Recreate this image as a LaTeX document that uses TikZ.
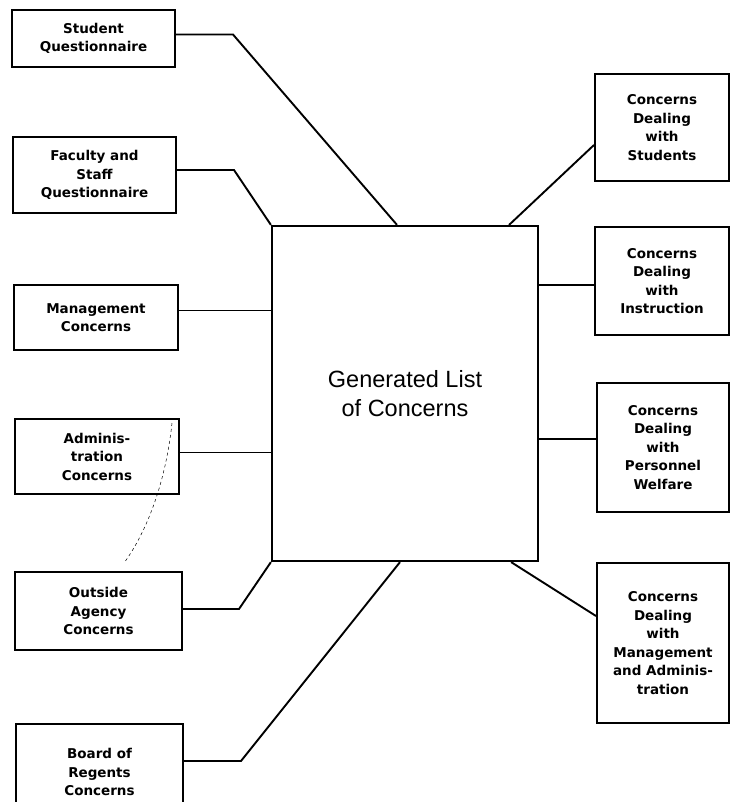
\documentclass[tikz,border=0pt]{standalone}
\usepackage{fontspec}
\setmainfont{Liberation Sans}
\newfontfamily\boxfont{DejaVu Sans}
\tikzset{
  box/.style={draw, line width=2pt, align=center, inner sep=0pt, font=\boxfont\bfseries\fontsize{13.5}{18.5}\selectfont},
  listbox/.style={draw, line width=2.2pt, align=center, font=\fontsize{23.5}{29}\selectfont},
  link/.style={line width=1.9pt}
}
\begin{document}
\begin{tikzpicture}[x=1pt,y=-1pt]
\useasboundingbox (0,0) rectangle (731,802);
\node[listbox, minimum width=266pt, minimum height=335pt] (list) at (405,393.5) {Generated List\\of Concerns};
\node[box, minimum width=163pt, minimum height=57pt] (stud) at (93.5,38.5) {Student\\Questionnaire};
\node[box, minimum width=163pt, minimum height=76pt] (fac) at (94.5,175) {Faculty and\\Staff\\Questionnaire};
\node[box, minimum width=164pt, minimum height=65pt] (mgmt) at (96,317.5) {Management\\Concerns};
\node[box, minimum width=164pt, minimum height=75pt] (adm) at (97,456.5) {Adminis-\\tration\\Concerns};
\node[box, minimum width=167pt, minimum height=78pt] (out) at (98.5,611) {Outside\\Agency\\Concerns};
\node[box, minimum width=167pt, minimum height=96pt] (board) at (99.5,772) {Board of\\Regents\\Concerns};
\node[box, minimum width=134pt, minimum height=107pt] (cstud) at (662,127.5) {Concerns\\Dealing\\with\\Students};
\node[box, minimum width=134pt, minimum height=108pt] (cinst) at (662,281) {Concerns\\Dealing\\with\\Instruction};
\node[box, minimum width=132pt, minimum height=129pt] (cpers) at (663,447.5) {Concerns\\Dealing\\with\\Personnel\\Welfare};
\node[box, minimum width=132pt, minimum height=160pt] (cman) at (663,643) {Concerns\\Dealing\\with\\Management\\and Adminis-\\tration};
\draw[link] ([yshift=4pt]stud.east) -- ++(57,0) -- ([xshift=-8pt]list.north);
\draw[link] ([yshift=5pt]fac.east) -- ++(57,0) -- (list.north west);
\draw[link] ([yshift=7pt]mgmt.east) -- ([yshift=7pt]mgmt.east -| list.west);
\draw[link] ([yshift=4pt]adm.east) -- ([yshift=4pt]adm.east -| list.west);
\draw[link] ([yshift=2pt]out.east) -- ++(56,0) -- (list.south west);
\draw[link] ([yshift=11pt]board.east) -- ++(57,0) -- ([xshift=-5pt]list.south);
\draw[link] ([xshift=-30pt]list.north east) -- ([yshift=-17.5pt]cstud.west);
\draw[link] ([yshift=-4pt]cinst.west) -- ([yshift=-4pt]cinst.west -| list.east);
\draw[link] ([yshift=8.5pt]cpers.west) -- ([yshift=8.5pt]cpers.west -| list.east);
\draw[link] ([xshift=-28pt]list.south east) -- ([yshift=27pt]cman.west);
\draw[dashed, line width=0.5pt] (172,423) .. controls (166,480) and (148,530) .. (124,563);
\end{tikzpicture}
\end{document}
